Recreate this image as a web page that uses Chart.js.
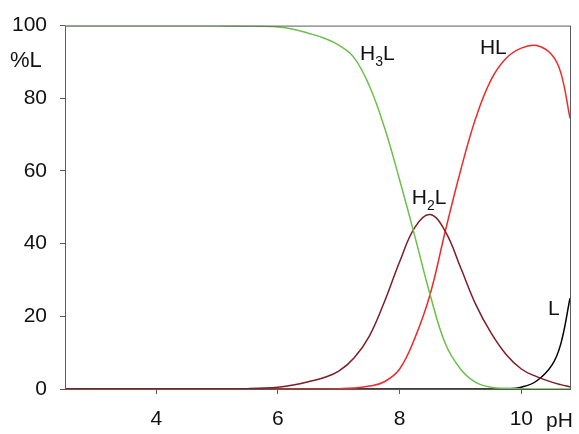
<!DOCTYPE html>
<html>
<head>
<meta charset="utf-8">
<script src="https://cdn.jsdelivr.net/npm/chart.js@4/dist/chart.umd.min.js"></script>
<style>
  body { margin: 0; background: #fff; }
</style>
</head>
<body>
<canvas id="myChart" width="579" height="434"></canvas>
<script>
// pH grid and species distribution (%)
const pH  = [2.5, 3, 3.5, 4, 4.5, 5, 5.5, 6, 6.25, 6.5, 6.75, 7, 7.25, 7.5, 7.75, 8, 8.25, 8.5, 8.75, 9, 9.25, 9.5, 9.75, 10, 10.25, 10.5, 10.65, 10.8];
const h3L = [100, 100, 100, 100, 100, 100, 99.9, 99.6, 99, 97.9, 96.6, 94.6, 91.2, 83.5, 72, 57.5, 42, 26, 12.5, 5.5, 1.8, 0.5, 0.2, 0.1, 0, 0, 0, 0];
const h2L = [0, 0, 0, 0, 0, 0, 0.1, 0.5, 1.1, 2.0, 3.1, 4.9, 8.5, 14.5, 24, 35, 44.5, 48, 43.4, 33.5, 23.3, 15.5, 9.5, 5.5, 3.4, 1.9, 1.2, 0.6];
const hL  = [0, 0, 0, 0, 0, 0, 0, 0, 0, 0, 0, 0.1, 0.3, 0.8, 2, 5.5, 14, 26, 43.4, 60, 74.5, 85, 91, 93.8, 94.5, 92, 87, 74.5];
const L   = [0, 0, 0, 0, 0, 0, 0, 0, 0, 0, 0, 0, 0, 0, 0, 0, 0, 0, 0, 0, 0, 0, 0, 0.5, 2.2, 6.5, 12.5, 25];
const xTicks = [4, 6, 8, 10];

// curve labels: [main, subscript, tail, pH, %]
const curveLabels = [
    ['H', '3', 'L', 7.35, 90.5],
    ['HL', '', '', 9.32, 92.1],
    ['H', '2', 'L', 8.2, 51],
    ['L', '', '', 10.44, 20.5]
];

const FONT = '"Liberation Sans", Arial, sans-serif';
const pts = (ys) => pH.map((x, i) => ({ x: x, y: ys[i] }));

const line = (label, ys, color) => ({
    label: label,
    data: pts(ys),
    borderColor: color,
    borderWidth: 1.5,
    pointRadius: 0,
    tension: 0.4,
    fill: false
});

const decorPlugin = {
    id: 'decor',
    afterDraw(chart) {
        const ctx = chart.ctx;
        const a = chart.chartArea;
        const xs = chart.scales.x, ys = chart.scales.y;
        ctx.save();
        ctx.strokeStyle = '#5a5a5a';
        ctx.lineWidth = 1;
        ctx.strokeRect(a.left + 0.5, a.top + 0.5, a.right - a.left, a.bottom - a.top);

        ctx.fillStyle = '#111';
        ctx.textBaseline = 'alphabetic';
        ctx.textAlign = 'left';
        curveLabels.forEach(([main, sub, tail, px, py]) => {
            let x = xs.getPixelForValue(px);
            const y = ys.getPixelForValue(py);
            ctx.font = '21px ' + FONT;
            ctx.fillText(main, x, y);
            x += ctx.measureText(main).width;
            if (sub) {
                ctx.font = '14px ' + FONT;
                ctx.fillText(sub, x, y + 6);
                x += ctx.measureText(sub).width;
            }
            if (tail) {
                ctx.font = '21px ' + FONT;
                ctx.fillText(tail, x, y);
            }
        });

        ctx.font = '22px ' + FONT;
        ctx.fillText('%L', 10, 67);
        ctx.font = '21px ' + FONT;
        ctx.fillText('pH', 546, 427);
        ctx.restore();
    }
};

new Chart(document.getElementById('myChart'), {
    type: 'line',
    data: {
        datasets: [
            line('H3L', h3L, '#6cbf4a'),
            line('H2L', h2L, '#7a1e28'),
            line('HL', hL, '#ee2a2a'),
            line('L', L, '#000000')
        ]
    },
    options: {
        responsive: false,
        animation: false,
        devicePixelRatio: 1,
        layout: { padding: { top: 23, right: 9, left: 0, bottom: 0 } },
        plugins: {
            legend: { display: false },
            tooltip: { enabled: false }
        },
        scales: {
            x: {
                type: 'linear',
                min: 2.5,
                max: 10.8,
                afterBuildTicks: (scale) => { scale.ticks = xTicks.map(v => ({ value: v })); },
                afterFit: (scale) => { scale.height = 45; },
                border: { display: false },
                grid: { drawOnChartArea: false, drawTicks: true, tickLength: 5, color: '#5a5a5a' },
                ticks: { color: '#111', font: { family: FONT, size: 21 }, padding: 13, maxRotation: 0 }
            },
            y: {
                min: 0,
                max: 100,
                afterFit: (scale) => { scale.width = 65; },
                border: { display: false },
                grid: { drawOnChartArea: false, drawTicks: true, tickLength: 5, color: '#5a5a5a' },
                ticks: { stepSize: 20, color: '#111', font: { family: FONT, size: 21 }, padding: 13 }
            }
        }
    },
    plugins: [decorPlugin]
});
</script>
</body>
</html>
